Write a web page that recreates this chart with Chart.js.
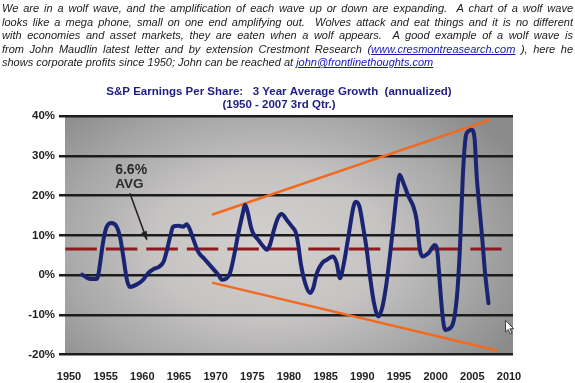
<!DOCTYPE html>
<html><head><meta charset="utf-8">
<script src="https://cdn.jsdelivr.net/npm/chart.js@4.4.0/dist/chart.umd.min.js"></script>
<style>
html,body{margin:0;padding:0;background:#fff;width:575px;height:383px;overflow:hidden;}
#wrap{position:relative;width:575px;height:383px;}
#chart{position:absolute;left:0;top:0;}
#para{position:absolute;left:2px;top:2px;width:571px;font-family:"Liberation Sans",Arial,sans-serif;font-style:italic;font-size:11px;color:#1a1a1a;}
#para div{height:13.5px;line-height:13.5px;text-align:justify;text-align-last:justify;overflow:hidden;}
#para div.last{text-align-last:left;}
#para a{color:#1515b8;text-decoration:underline;}
#cursor{position:absolute;left:505px;top:320px;}
</style></head>
<body><div id="wrap">
<canvas id="chart" width="575" height="383"></canvas>
<div id="para">
<div>We are in a wolf wave, and the amplification of each wave up or down are expanding.&nbsp; A chart of a wolf wave</div>
<div>looks like a mega phone, small on one end amplifying out.&nbsp; Wolves attack and eat things and it is no different</div>
<div>with economies and asset markets, they are eaten when a wolf appears.&nbsp; A good example of a wolf wave is</div>
<div>from John Maudlin latest letter and by extension Crestmont Research (<a>www.cresmontreasearch.com</a> ), here he</div>
<div class="last">shows corporate profits since 1950; John can be reached at <a>john@frontlinethoughts.com</a></div>
</div>
<svg id="cursor" width="10" height="15" viewBox="0 0 10 15"><path d="M0.5,0.5 L0.5,12 L3.2,9.4 L5.4,14 L7,13.2 L4.9,8.8 L8.6,8.6 Z" fill="#fff" stroke="#222" stroke-width="0.8"/></svg>
</div>
<script>
// ---- data ----
const years = [1951.8, 1952.9, 1953.8, 1954.0, 1954.7, 1955.15, 1955.8, 1956.5, 1956.95, 1957.4,
  1957.9, 1958.3, 1959.2, 1960.1, 1960.8, 1961.5, 1962.2, 1962.9, 1963.3, 1963.8,
  1964.2, 1964.9, 1965.6, 1966.05, 1966.5, 1967.0, 1967.6, 1968.55, 1969.45, 1970.35,
  1970.9, 1971.5, 1971.95, 1972.4, 1973.1, 1973.7, 1974.0, 1974.3, 1974.8, 1975.1,
  1975.8, 1976.5, 1976.95, 1977.4, 1977.95, 1978.5, 1979.0, 1979.7, 1980.4, 1980.95,
  1981.3, 1981.6, 1982.2, 1982.9, 1983.3, 1983.8, 1984.5, 1985.2, 1986.0, 1986.5,
  1986.95, 1987.4, 1988.1, 1988.8, 1989.1, 1989.6, 1990.1, 1990.6, 1991.05, 1991.6,
  1992.2, 1992.75, 1993.3, 1993.75, 1994.2, 1994.7, 1995.1, 1995.6, 1996.3, 1996.95,
  1997.4, 1997.85, 1998.2, 1999.0, 1999.9, 2000.2, 2000.6, 2000.95, 2001.3, 2002.2,
  2002.9, 2003.3, 2003.7, 2004.1, 2004.5, 2004.9, 2005.3, 2005.6, 2006.0, 2006.4,
  2006.7, 2007.2];
const growth = [0.1, -1.0, -1.0, 0.1, 8.9, 12.2, 13.1, 12.2, 9.7, 4.7,
  -1.2, -3.0, -2.4, -1.2, 0.5, 1.5, 2.0, 3.4, 5.9, 9.7,
  12.2, 12.4, 12.2, 12.8, 11.4, 8.8, 5.9, 3.9, 2.0, 0.1,
  -1.2, -0.8, 0.5, 3.9, 10.6, 15.6, 17.7, 16.4, 12.2, 10.6,
  8.9, 7.2, 6.4, 7.6, 11.4, 14.4, 15.4, 13.9, 12.2, 10.6,
  7.2, 3.0, -2.0, -4.5, -3.3, 0.5, 3.0, 3.9, 4.7, 3.0,
  -0.8, 2.2, 9.7, 17.3, 18.5, 17.3, 12.2, 6.4, -0.4, -7.1,
  -10.4, -7.9, -2.0, 4.7, 12.2, 20.7, 25.3, 23.2, 19.8, 17.3,
  13.9, 6.4, 4.7, 5.5, 7.6, 6.4, -2.9, -10.4, -13.8, -12.9,
  -5.4, 6.4, 24.8, 34.9, 36.3, 36.6, 34.5, 24.8, 16.4, 8.1,
  1.3, -7.1];
const avgValue = 6.6;
const avgSpan = [1949.5, 2009.0];
const upperTrendYears = [1969.5, 2007.4];
const upperTrendValues = [15.2, 39.1];
const lowerTrendYears = [1969.5, 2008.4];
const lowerTrendValues = [-1.9, -19.0];
const xTickYears = [1950, 1955, 1960, 1965, 1970, 1975, 1980, 1985, 1990, 1995, 2000, 2005, 2010];
const yTickValues = [-20, -10, 0, 10, 20, 30, 40];
const titleLines = ['S&P Earnings Per Share:   3 Year Average Growth  (annualized)', '(1950 - 2007 3rd Qtr.)'];
const avgLabel = ['6.6%', 'AVG'];

const pts = (xs, ys) => xs.map((x, i) => ({x: x, y: ys[i]}));

const bgPlugin = {
  id: 'bg',
  beforeDraw(chart) {
    const {ctx, chartArea: a} = chart;
    const cx = 268, cy = 245, rx = 285, ry = 185;
    ctx.save();
    ctx.translate(cx, cy);
    ctx.scale(1, ry / rx);
    const g = ctx.createRadialGradient(0, 0, 0, 0, 0, rx);
    g.addColorStop(0, '#d4d0d0');
    g.addColorStop(0.4, '#c6c3c3');
    g.addColorStop(0.72, '#a8a8a8');
    g.addColorStop(1, '#8b8b8b');
    ctx.fillStyle = g;
    ctx.fillRect(a.left - cx, (a.top - cy) * rx / ry, a.right - a.left, (a.bottom - a.top) * rx / ry);
    ctx.restore();
  }
};

const annotPlugin = {
  id: 'annot',
  afterDatasetsDraw(chart) {
    const {ctx} = chart;
    const xs = chart.scales.x, ys = chart.scales.y;
    ctx.save();
    ctx.fillStyle = '#2b2b2b';
    ctx.font = 'bold 14px "Liberation Sans", Arial, sans-serif';
    ctx.textAlign = 'left';
    ctx.textBaseline = 'middle';
    ctx.fillText(avgLabel[0], xs.getPixelForValue(1956.3), ys.getPixelForValue(26.4));
    ctx.font = 'bold 13.5px "Liberation Sans", Arial, sans-serif';
    ctx.fillText(avgLabel[1], xs.getPixelForValue(1956.3), ys.getPixelForValue(23.0));
    const x1 = xs.getPixelForValue(1958.3), y1 = ys.getPixelForValue(20.6);
    const x2 = xs.getPixelForValue(1960.6), y2 = ys.getPixelForValue(9.0);
    ctx.strokeStyle = '#222';
    ctx.lineWidth = 1.5;
    ctx.beginPath(); ctx.moveTo(x1, y1); ctx.lineTo(x2, y2); ctx.stroke();
    const ang = Math.atan2(y2 - y1, x2 - x1);
    const L = 8, W = 3;
    ctx.fillStyle = '#222';
    ctx.beginPath();
    ctx.moveTo(x2 + 1.5 * Math.cos(ang), y2 + 1.5 * Math.sin(ang));
    ctx.lineTo(x2 - L * Math.cos(ang) + W * Math.sin(ang), y2 - L * Math.sin(ang) - W * Math.cos(ang));
    ctx.lineTo(x2 - L * Math.cos(ang) - W * Math.sin(ang), y2 - L * Math.sin(ang) + W * Math.cos(ang));
    ctx.closePath(); ctx.fill();
    ctx.restore();
  },
  afterDraw(chart) {
    const {ctx} = chart;
    ctx.save();
    ctx.fillStyle = '#1d1d86';
    ctx.font = 'bold 11.5px "Liberation Sans", Arial, sans-serif';
    ctx.textAlign = 'center';
    ctx.textBaseline = 'middle';
    ctx.fillText(titleLines[0], 279, 91.5);
    ctx.fillText(titleLines[1], 279, 104.5);
    ctx.restore();
  }
};

new Chart(document.getElementById('chart'), {
  type: 'line',
  data: {
    datasets: [
      {data: pts(years, growth), borderColor: '#1b2473', borderWidth: 4, pointRadius: 0,
       tension: 0.4, cubicInterpolationMode: 'monotone', borderCapStyle: 'round', borderJoinStyle: 'round', fill: false},
      {data: pts(upperTrendYears, upperTrendValues), borderColor: '#f26a1f', borderWidth: 2.5, pointRadius: 0, fill: false},
      {data: pts(lowerTrendYears, lowerTrendValues), borderColor: '#f26a1f', borderWidth: 2.5, pointRadius: 0, fill: false},
      {data: pts(avgSpan, [avgValue, avgValue]), borderColor: '#8c1a1a', borderWidth: 3, borderDash: [31.5, 9], pointRadius: 0, fill: false}
    ]
  },
  options: {
    responsive: false,
    animation: false,
    events: [],
    layout: {padding: {left: 0, right: 62, top: 116.3, bottom: 0}},
    plugins: {legend: {display: false}, tooltip: {enabled: false}, title: {display: false}},
    scales: {
      x: {
        type: 'linear', min: 1949.455, max: 2010.545,
        afterBuildTicks: s => { s.ticks = xTickYears.map(v => ({value: v})); },
        afterFit: s => { s.height = 28.5; },
        grid: {display: false, drawTicks: false},
        border: {display: false},
        ticks: {callback: v => String(v), color: '#222', padding: 16, maxRotation: 0, autoSkip: false,
                font: {family: '"Liberation Sans", Arial, sans-serif', size: 11, weight: 'bold'}}
      },
      y: {
        min: -20, max: 40,
        afterBuildTicks: s => { s.ticks = yTickValues.map(v => ({value: v})); },
        afterFit: s => { s.width = 65; },
        grid: {color: '#1c1c1c', lineWidth: 2.5, tickLength: 6, drawTicks: true},
        border: {display: false},
        ticks: {callback: v => v + '%', color: '#222', padding: 4,
                font: {family: '"Liberation Sans", Arial, sans-serif', size: 11.5, weight: 'bold'}}
      }
    }
  },
  plugins: [bgPlugin, annotPlugin]
});
</script>
</body></html>
